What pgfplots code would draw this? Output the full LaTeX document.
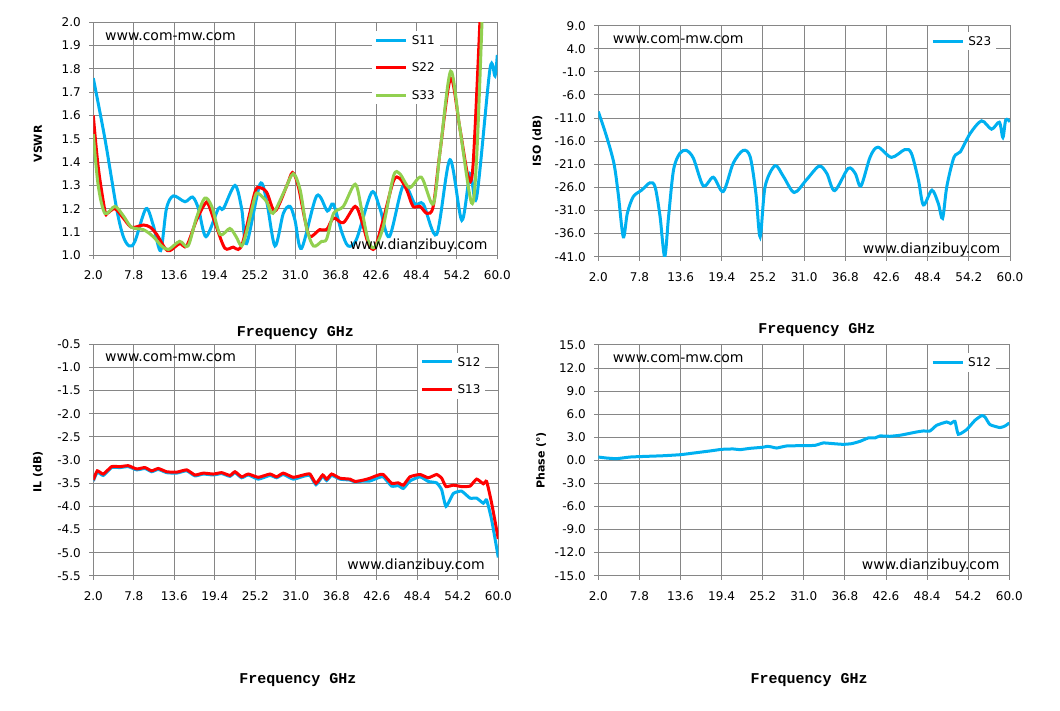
\documentclass[border=0pt]{standalone}
\usepackage{fontspec}
\setmainfont{DejaVu Sans}
\newfontfamily\monofreq{Liberation Mono}
\usepackage{pgfplots}
\pgfplotsset{compat=1.18}
\definecolor{cblue}{RGB}{0,176,240}
\definecolor{cred}{RGB}{255,0,0}
\definecolor{cgreen}{RGB}{146,208,80}
\definecolor{gridgray}{RGB}{134,134,134}

\tikzset{wm/.style={font=\fontsize{14}{16}\selectfont, inner sep=0pt, black}}
\pgfplotsset{
  myax/.style={
    scale only axis,
    anchor=south west,
    xmin=2, xmax=60,
    xtick={2,7.8,13.6,19.4,25.2,31,36.8,42.6,48.4,54.2,60},
    /pgf/number format/fixed,
    /pgf/number format/fixed zerofill,
    /pgf/number format/precision=1,
    /pgf/number format/assume math mode=true,
    grid=major,
    major grid style={gridgray, line width=1pt},
    axis line style={gridgray, line width=1pt},
    tick style={gridgray, line width=1pt},
    tick align=outside,
    major tick length=4pt,
    xtick pos=bottom, ytick pos=left,
    tick label style={font=\fontsize{12}{14}\selectfont, black},
    xticklabel style={yshift=-8pt},
    yticklabel style={xshift=-5pt},
    every axis plot/.append style={line width=3pt, no markers, smooth, tension=0.5},
    legend image code/.code={\draw[#1] (0pt,0pt) -- (30pt,0pt);},
    legend cell align=left,
    legend style={anchor=north west, draw=none, fill=white, inner sep=3pt,
      row sep=15pt, column sep=2pt,
      nodes={inner sep=2pt, text height=8.5pt, text depth=0pt, font=\fontsize{12}{14}\selectfont}},
    xlabel={Frequency GHz},
    xlabel style={font=\monofreq\bfseries\fontsize{15}{17}\selectfont, anchor=center},
    ylabel style={font=\bfseries\fontsize{11}{13}\selectfont, anchor=center},
  },
}

\begin{document}
\begin{tikzpicture}
\path[use as bounding box, fill=white] (0,0) rectangle (1060pt,711pt);

% ---------------- Top left: VSWR ----------------
\begin{axis}[myax,
  at={(93.3pt,455.7pt)}, width=404pt, height=233pt,
  ymin=1, ymax=2, ytick={1,1.1,1.2,1.3,1.4,1.5,1.6,1.7,1.8,1.9,2},
  ylabel={VSWR},
  ylabel style={at={(axis description cs:-0.137,0.478)}},
  xlabel style={at={(axis description cs:0.5,-0.332)}},
  legend style={at={(rel axis cs:0.689,0.964)}},
]
\addplot[cblue] coordinates {
(2.0,1.76) (3.67,1.50) (5.35,1.20) (6.31,1.08) (7.17,1.04) (7.98,1.06) (9.56,1.20)
(10.6,1.13) (11.67,1.02) (12.5,1.20) (13.49,1.255) (15.16,1.23) (16.26,1.25) (17.1,1.20)
(18.18,1.08) (19.95,1.20) (20.67,1.20) (22.34,1.30) (23.3,1.20) (24.0,1.05) (25.93,1.305)
(26.9,1.23) (28.08,1.04) (29.28,1.18) (30.24,1.21) (30.96,1.15) (31.9,1.03) (34.07,1.255)
(35.6,1.19) (36.46,1.22) (37.66,1.10) (38.6,1.04) (39.8,1.07) (41.96,1.27) (43.16,1.20)
(44.5,1.08) (46.5,1.30) (48.18,1.22) (49.38,1.22) (51.3,1.09) (53.2,1.41) (54.9,1.15)
(56.1,1.35) (57.04,1.25) (58.95,1.80) (59.67,1.77) (60,1.86)};
\addlegendentry{S11}
\addplot[cred] coordinates {
(2.0,1.60) (2.7,1.38) (3.67,1.19) (4.0,1.18) (5.1,1.20) (6.3,1.16) (7.5,1.12) (9.2,1.13)
(10.2,1.12) (11.1,1.09) (12.3,1.03) (13.0,1.02) (14.4,1.05) (15.4,1.04) (16.8,1.15)
(18.0,1.22) (18.5,1.22) (19.7,1.12) (20.9,1.03) (22.1,1.035) (22.8,1.025) (23.5,1.06)
(25.2,1.27) (25.9,1.29) (26.9,1.27) (28.1,1.19) (29.8,1.30) (30.6,1.355) (31.4,1.30)
(32.4,1.15) (33.1,1.08) (34.5,1.11) (35.5,1.11) (36.5,1.16) (37.9,1.14) (39.6,1.21)
(40.5,1.15) (41.5,1.05) (42.4,1.03) (43.6,1.15) (45.1,1.32) (46.0,1.33) (47.0,1.28)
(47.9,1.21) (48.9,1.21) (49.9,1.18) (50.8,1.21) (51.8,1.45) (53.3,1.76) (54.6,1.55)
(55.8,1.34) (56.5,1.38) (57.5,2.0) (58.0,2.4)};
\addlegendentry{S22}
\addplot[cgreen] coordinates {
(2.0,1.52) (2.7,1.30) (3.67,1.18) (5.1,1.21) (6.3,1.17) (7.5,1.12) (9.2,1.11) (10.6,1.08)
(11.8,1.04) (12.8,1.025) (14.4,1.06) (15.6,1.04) (16.8,1.16) (18.0,1.245) (19.0,1.21)
(20.2,1.09) (21.6,1.115) (22.5,1.08) (23.3,1.04) (24.0,1.10) (25.2,1.25) (25.7,1.265)
(26.9,1.23) (27.8,1.18) (29.5,1.28) (30.7,1.35) (31.7,1.28) (32.6,1.12) (33.6,1.04)
(34.8,1.06) (35.5,1.07) (36.5,1.18) (37.9,1.21) (39.6,1.305) (40.5,1.20) (41.5,1.06)
(42.4,1.035) (43.6,1.12) (45.1,1.34) (46.0,1.35) (47.4,1.29) (49.1,1.335) (50.8,1.22)
(51.8,1.45) (53.3,1.79) (54.6,1.55) (56.3,1.225) (57.0,1.40) (57.8,2.0) (58.2,2.4)};
\addlegendentry{S33}
\node[wm, anchor=base west] at (rel axis cs:0.029,0.921) {www.com-mw.com};
\node[wm, anchor=base west] at (rel axis cs:0.635,0.023) {www.dianzibuy.com};
\end{axis}

% ---------------- Top right: ISO ----------------
\begin{axis}[myax,
  at={(598.3pt,454.3pt)}, width=411.7pt, height=231pt,
  ymin=-41, ymax=9, ytick={-41,-36,-31,-26,-21,-16,-11,-6,-1,4,9},
  ylabel={ISO (dB)},
  ylabel style={at={(axis description cs:-0.148,0.5)}},
  xlabel style={at={(axis description cs:0.531,-0.317)}},
  legend style={at={(rel axis cs:0.801,0.974)}},
]
\addplot[cblue] coordinates {
(2.0,-9.6) (3.17,-15.0) (4.2,-20.8) (4.8,-27.3) (5.52,-36.7) (6.09,-31.6) (6.93,-28.0)
(8.1,-26.6) (9.28,-25.0) (10.0,-25.9) (10.7,-32.3) (11.35,-41.0) (11.9,-32.3) (12.6,-22.2)
(13.5,-18.6) (14.4,-18.0) (15.4,-19.7) (16.8,-25.7) (18.2,-23.8) (19.6,-26.9) (21.0,-20.8)
(22.4,-18.0) (23.4,-19.4) (24.2,-27.3) (24.8,-36.7) (25.5,-25.8) (26.9,-21.3) (28.1,-23.7)
(29.6,-27.1) (31.3,-24.4) (33.1,-21.4) (34.2,-23.0) (35.3,-26.7) (37.2,-21.9) (38.2,-23.0)
(39.0,-25.7) (40.3,-19.4) (41.4,-17.3) (43.3,-19.5) (45.2,-17.8) (46.1,-18.6) (47.1,-24.4)
(47.8,-29.8) (49.0,-26.6) (49.9,-29.5) (50.5,-32.7) (51.1,-25.8) (52.1,-19.5) (53.0,-18.3)
(54.4,-14.3) (56.0,-11.6) (57.4,-13.4) (58.5,-11.9) (59.0,-15.2) (59.4,-11.4) (60,-11.8)};
\addlegendentry{S23}
\node[wm, anchor=base west] at (rel axis cs:0.035,0.924) {www.com-mw.com};
\node[wm, anchor=base west] at (rel axis cs:0.642,0.015) {www.dianzibuy.com};
\end{axis}

% ---------------- Bottom left: IL ----------------
\begin{axis}[myax,
  at={(93.3pt,135pt)}, width=405pt, height=231.7pt,
  ymin=-5.5, ymax=-0.5, ytick={-5.5,-5,-4.5,-4,-3.5,-3,-2.5,-2,-1.5,-1,-0.5},
  ylabel={IL (dB)},
  ylabel style={at={(axis description cs:-0.137,0.449)}},
  xlabel style={at={(axis description cs:0.505,-0.449)}},
  legend style={at={(rel axis cs:0.80,0.965)}},
  every axis plot/.append style={tension=0.3},
]
\addplot[cblue] coordinates {
(2.0,-3.45) (2.57,-3.26) (3.43,-3.33) (4.63,-3.16) (5.82,-3.16) (7.01,-3.14) (8.21,-3.21)
(9.40,-3.18) (10.35,-3.25) (11.31,-3.20) (12.50,-3.27) (13.94,-3.28) (15.37,-3.23) (16.56,-3.34)
(17.75,-3.30) (19.19,-3.32) (20.38,-3.29) (21.57,-3.35) (22.29,-3.27) (23.24,-3.38) (24.20,-3.32)
(25.63,-3.41) (27.30,-3.33) (28.26,-3.38) (29.21,-3.31) (30.64,-3.41) (32.08,-3.35) (33.03,-3.33)
(33.89,-3.53) (34.85,-3.35) (35.42,-3.44) (36.13,-3.33) (37.33,-3.41) (38.76,-3.43) (39.48,-3.47)
(40.67,-3.45) (41.62,-3.45) (42.82,-3.38) (43.53,-3.36) (44.73,-3.56) (45.68,-3.55) (46.40,-3.61)
(47.35,-3.45) (48.79,-3.36) (49.98,-3.46) (51.17,-3.49) (51.89,-3.64) (52.51,-4.00) (53.56,-3.72)
(54.75,-3.67) (55.95,-3.82) (56.90,-3.82) (57.86,-3.93) (58.33,-3.86) (59.05,-4.29) (60.0,-5.10)};
\addlegendentry{S12}
\addplot[cred] coordinates {
(2.0,-3.43) (2.57,-3.23) (3.43,-3.30) (4.63,-3.14) (5.82,-3.14) (7.01,-3.12) (8.21,-3.19)
(9.40,-3.16) (10.35,-3.23) (11.31,-3.18) (12.50,-3.25) (13.94,-3.26) (15.37,-3.21) (16.56,-3.32)
(17.75,-3.28) (19.19,-3.30) (20.38,-3.27) (21.57,-3.33) (22.29,-3.25) (23.24,-3.36) (24.20,-3.30)
(25.63,-3.37) (27.30,-3.30) (28.26,-3.36) (29.21,-3.28) (30.64,-3.37) (32.08,-3.32) (33.03,-3.30)
(33.89,-3.50) (34.85,-3.32) (35.42,-3.41) (36.13,-3.30) (37.33,-3.39) (38.76,-3.41) (39.48,-3.46)
(40.67,-3.43) (41.62,-3.39) (42.82,-3.32) (43.53,-3.31) (44.73,-3.50) (45.68,-3.49) (46.40,-3.54)
(47.35,-3.36) (48.79,-3.31) (49.98,-3.38) (51.17,-3.31) (51.89,-3.39) (52.51,-3.57) (53.56,-3.54)
(54.75,-3.57) (55.95,-3.56) (56.90,-3.41) (57.86,-3.51) (58.33,-3.46) (59.05,-3.93) (60.0,-4.70)};
\addlegendentry{S13}
\node[wm, anchor=base west] at (rel axis cs:0.029,0.925) {www.com-mw.com};
\node[wm, anchor=base west] at (rel axis cs:0.627,0.030) {www.dianzibuy.com};
\end{axis}

% ---------------- Bottom right: Phase ----------------
\begin{axis}[myax,
  at={(598.3pt,135.3pt)}, width=411pt, height=230.7pt,
  ymin=-15, ymax=15, ytick={-15,-12,-9,-6,-3,0,3,6,9,12,15},
  ylabel={Phase (°)},
  ylabel style={at={(axis description cs:-0.139,0.5)}},
  xlabel style={at={(axis description cs:0.513,-0.452)}},
  legend style={at={(rel axis cs:0.802,0.966)}},
  every axis plot/.append style={tension=0.3},
]
\addplot[cblue] coordinates {
(2.0,0.43) (3.18,0.30) (4.59,0.22) (6.47,0.43) (8.82,0.52) (11.17,0.60) (13.62,0.74)
(15.88,1.00) (17.76,1.22) (19.40,1.43) (21.05,1.48) (21.99,1.39) (23.40,1.56) (25.19,1.70)
(25.85,1.82) (26.46,1.74) (27.17,1.60) (28.58,1.87) (30.93,1.91) (32.58,1.95) (33.75,2.26)
(35.16,2.17) (36.57,2.08) (37.75,2.17) (38.93,2.47) (40.10,2.91) (41.04,2.91) (41.75,3.17)
(43.16,3.13) (44.57,3.26) (45.75,3.47) (46.92,3.69) (47.86,3.82) (48.81,3.82) (49.75,4.56)
(51.16,4.99) (51.72,4.78) (52.33,5.08) (52.80,3.39) (53.98,4.00) (55.16,5.21) (56.10,5.82)
(56.57,5.64) (57.27,4.65) (58.68,4.26) (59.39,4.47) (60.0,4.86)};
\addlegendentry{S12}
\node[wm, anchor=base west] at (rel axis cs:0.035,0.923) {www.com-mw.com};
\node[wm, anchor=base west] at (rel axis cs:0.641,0.029) {www.dianzibuy.com};
\end{axis}
\end{tikzpicture}
\end{document}
